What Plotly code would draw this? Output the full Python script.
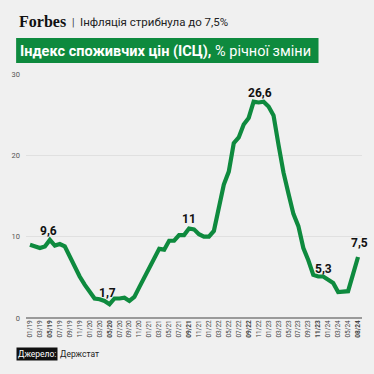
import plotly.graph_objects as go

# ---------------- data ----------------
months = [
    "01/19", "02/19", "03/19", "04/19", "05/19", "06/19", "07/19", "08/19", "09/19", "10/19", "11/19", "12/19",
    "01/20", "02/20", "03/20", "04/20", "05/20", "06/20", "07/20", "08/20", "09/20", "10/20", "11/20", "12/20",
    "01/21", "02/21", "03/21", "04/21", "05/21", "06/21", "07/21", "08/21", "09/21", "10/21", "11/21", "12/21",
    "01/22", "02/22", "03/22", "04/22", "05/22", "06/22", "07/22", "08/22", "09/22", "10/22", "11/22", "12/22",
    "01/23", "02/23", "03/23", "04/23", "05/23", "06/23", "07/23", "08/23", "09/23", "10/23", "11/23", "12/23",
    "01/24", "02/24", "03/24", "04/24", "05/24", "07/24", "08/24",
]
cpi = [
    9.0, 8.8, 8.6, 8.8, 9.6, 8.9, 9.1, 8.8, 7.5, 6.5, 5.1, 4.1,
    3.2, 2.4, 2.3, 2.1, 1.7, 2.4, 2.4, 2.5, 2.1, 2.6, 3.8, 5.0,
    6.1, 7.5, 8.5, 8.4, 9.5, 9.5, 10.2, 10.2, 11.0, 10.9, 10.3, 10.0,
    10.0, 10.7, 13.7, 16.4, 18.0, 21.5, 22.2, 23.8, 24.6, 26.6, 26.5, 26.6,
    26.0, 24.9, 21.3, 17.9, 15.3, 12.8, 11.3, 8.6, 7.1, 5.3, 5.1, 5.1,
    4.7, 4.3, 3.2, 3.2, 3.3, 5.4, 7.5,
]
annotated_months = ["05/19", "05/20", "09/21", "10/22", "10/23", "08/24"]
bold_tick_months = ["05/19", "05/20", "09/21", "09/22", "11/23", "08/24"]
y_ticks = [0, 10, 20, 30]

header_text = "Інфляція стрибнула до 7,5%"
title_bold = "Індекс споживчих цін (ІСЦ),"
title_rest = " % річної зміни"
source_label = "Джерело:"
source_text = "Держстат"

# ---------------- style ----------------
W_PX, H_PX = 374, 374
L, R, T, B = 22, 12, 74, 56
PW, PH = W_PX - L - R, H_PX - T - B
GREEN = "#0e8a3e"
BG = "#f0f0f0"
NARROW = "Roboto, Liberation Sans, sans-serif"


def px_x(px):
    return (px - L) / PW


def px_y(py):
    return (H_PX - B - py) / PH


x_idx = list(range(len(months)))
tickvals = x_idx[::2]
if x_idx[-1] not in tickvals:
    tickvals.append(x_idx[-1])
ticktext = []
for i in tickvals:
    m = months[i]
    ticktext.append(f"<b>{m}</b>" if m in bold_tick_months else m)

fig = go.Figure()
fig.add_trace(go.Scatter(
    x=x_idx, y=cpi, mode="lines",
    line=dict(color=GREEN, width=4.2),
    hoverinfo="skip", showlegend=False,
))

# value labels
label_shifts = {"05/19": (-1, 9), "05/20": (-2, 11), "09/21": (0, 10),
                "10/22": (6, 9), "10/23": (10, 6), "08/24": (1, 14)}
annotations = []
for m in annotated_months:
    i = months.index(m)
    v = cpi[i]
    txt = f"{v:g}".replace(".", ",")
    xs, ys = label_shifts[m]
    annotations.append(dict(
        x=i, y=v, xref="x", yref="y", text=f"<b>{txt}</b>", showarrow=False,
        xanchor="center", yanchor="middle", xshift=xs, yshift=ys,
        font=dict(family=NARROW, size=12, color="#111"),
    ))

# header
annotations.append(dict(
    x=px_x(13), y=px_y(21), xref="paper", yref="paper", xanchor="left", yanchor="middle",
    text="<b>Forbes</b>", showarrow=False,
    font=dict(family="Liberation Serif, DejaVu Serif, serif", size=16, color="#111"),
))
annotations.append(dict(
    x=px_x(67), y=px_y(22), xref="paper", yref="paper", xanchor="left", yanchor="middle",
    text="|", showarrow=False, font=dict(family=NARROW, size=10, color="#333"),
))
annotations.append(dict(
    x=px_x(75), y=px_y(22), xref="paper", yref="paper", xanchor="left", yanchor="middle",
    text=header_text, showarrow=False, font=dict(family=NARROW, size=11.5, color="#222"),
))
# title in green box
annotations.append(dict(
    x=px_x(14), y=px_y(51), xref="paper", yref="paper", xanchor="left", yanchor="middle",
    text=f"<b>{title_bold}</b>{title_rest}", showarrow=False,
    font=dict(family=NARROW, size=14.5, color="white"),
))
# source
annotations.append(dict(
    x=px_x(12), y=px_y(354), xref="paper", yref="paper", xanchor="left", yanchor="middle",
    text=source_label, showarrow=False, bgcolor="#111", borderpad=1,
    font=dict(family=NARROW, size=8.5, color="white"),
))
annotations.append(dict(
    x=px_x(54), y=px_y(354), xref="paper", yref="paper", xanchor="left", yanchor="middle",
    text=source_text, showarrow=False,
    font=dict(family=NARROW, size=8.5, color="#222"),
))

shapes = [dict(
    type="rect", xref="paper", yref="paper",
    x0=px_x(12), x1=px_x(318), y0=px_y(63), y1=px_y(38),
    fillcolor=GREEN, line=dict(width=0), layer="below",
)]

fig.update_layout(
    width=W_PX, height=H_PX,
    margin=dict(l=L, r=R, t=T, b=B),
    paper_bgcolor=BG, plot_bgcolor=BG,
    showlegend=False,
    annotations=annotations,
    shapes=shapes,
    xaxis=dict(
        range=[-0.8, len(months) - 1 + 0.8],
        tickmode="array", tickvals=tickvals, ticktext=ticktext,
        tickangle=-90, tickfont=dict(family=NARROW, size=6.5, color="#444"),
        showgrid=False, zeroline=False, showline=False, ticks="",
        fixedrange=True,
    ),
    yaxis=dict(
        range=[0, 30], tickmode="array", tickvals=y_ticks,
        tickfont=dict(family=NARROW, size=7.5, color="#555"),
        showgrid=True, gridcolor="#e0e0e0", gridwidth=1,
        zeroline=True, zerolinecolor="#9a9a9a", zerolinewidth=2,
        showline=False, ticks="", ticklabelstandoff=5,
        fixedrange=True,
    ),
)

fig.write_html("out.html", config={"displayModeBar": False},
               post_script="document.body.style.margin='0';")
